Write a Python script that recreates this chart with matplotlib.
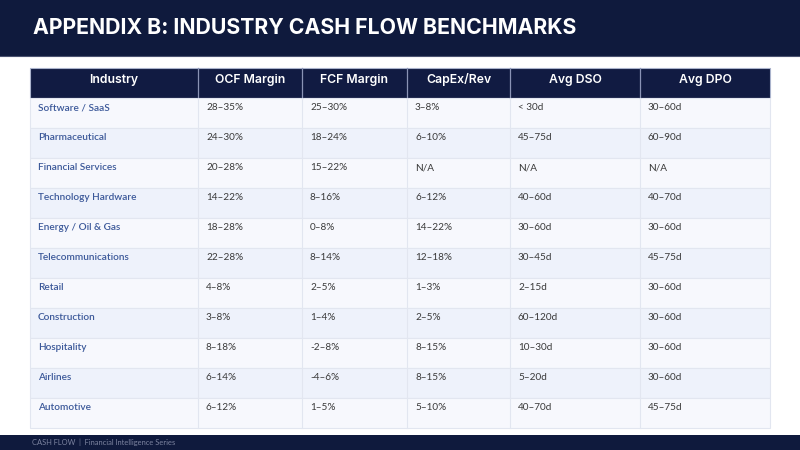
import matplotlib
matplotlib.use("Agg")
import matplotlib.pyplot as plt
from matplotlib.patches import Rectangle

# table content
title = "APPENDIX B: INDUSTRY CASH FLOW BENCHMARKS"
footer = "CASH FLOW  |  Financial Intelligence Series"
headers = ["Industry", "OCF Margin", "FCF Margin", "CapEx/Rev", "Avg DSO", "Avg DPO"]
industries = ["Software / SaaS", "Pharmaceutical", "Financial Services",
              "Technology Hardware", "Energy / Oil & Gas", "Telecommunications",
              "Retail", "Construction", "Hospitality", "Airlines", "Automotive"]
ocf_margin = ["28–35%", "24–30%", "20–28%", "14–22%", "18–28%", "22–28%",
              "4–8%", "3–8%", "8–18%", "6–14%", "6–12%"]
fcf_margin = ["25–30%", "18–24%", "15–22%", "8–16%", "0–8%", "8–14%",
              "2–5%", "1–4%", "-2–8%", "-4–6%", "1–5%"]
capex_rev = ["3–8%", "6–10%", "N/A", "6–12%", "14–22%", "12–18%",
             "1–3%", "2–5%", "8–15%", "8–15%", "5–10%"]
avg_dso = ["< 30d", "45–75d", "N/A", "40–60d", "30–60d", "30–45d",
           "2–15d", "60–120d", "10–30d", "5–20d", "40–70d"]
avg_dpo = ["30–60d", "60–90d", "N/A", "40–70d", "30–60d", "45–75d",
           "30–60d", "30–60d", "30–60d", "30–60d", "45–75d"]

NAVY = "#0f1a3d"
col_edges = [30, 198, 302, 407, 510, 640, 770]
header_top, header_h, row_h = 68, 30, 30

fig = plt.figure(figsize=(8, 4.5), dpi=100)
ax = fig.add_axes([0, 0, 1, 1])
ax.set_xlim(0, 800)
ax.set_ylim(450, 0)
ax.axis("off")

# title bar
ax.add_patch(Rectangle((0, 0), 800, 56, color=NAVY, lw=0))
ax.plot([0, 800], [56, 56], color="#4a5270", lw=0.8)
ax.text(33, 28, title, color="white", fontsize=15.3, fontweight="bold",
        family="Inter", va="center", ha="left")

# header row
ax.add_patch(Rectangle((col_edges[0], header_top), col_edges[-1] - col_edges[0],
                       header_h, facecolor="#111b42", edgecolor="#aab3cc", lw=0.8))
for i, h in enumerate(headers):
    cx = (col_edges[i] + col_edges[i + 1]) / 2
    ax.text(cx, header_top + 12, h, color="white", fontsize=8.8, fontweight="semibold",
            family="Inter", ha="center", va="center")
    if i > 0:
        ax.plot([col_edges[i]] * 2, [header_top, header_top + header_h],
                color="#8a93b5", lw=0.9)

# body rows
columns = [industries, ocf_margin, fcf_margin, capex_rev, avg_dso, avg_dpo]
body_top = header_top + header_h
for r in range(len(industries)):
    y0 = body_top + r * row_h
    face = "#f7f8fd" if r % 2 == 0 else "#eef2fb"
    ax.add_patch(Rectangle((col_edges[0], y0), col_edges[-1] - col_edges[0], row_h,
                           facecolor=face, edgecolor="#e2e6f0", lw=0.8))
    for c, col in enumerate(columns):
        ax.text(col_edges[c] + 8, y0 + 10, col[r],
                color="#3b5899" if c == 0 else "#3a3a3a",
                fontsize=7.2, family="Lato", ha="left", va="center",
                fontweight="semibold" if c == 0 else "normal")
for x in col_edges[1:-1]:
    ax.plot([x, x], [body_top, body_top + len(industries) * row_h],
            color="#e2e6f0", lw=0.8)

# footer bar
ax.add_patch(Rectangle((0, 435), 800, 15, color=NAVY, lw=0))
ax.text(32, 442, footer, color="#7d84a0", fontsize=5.4, family="Lato",
        ha="left", va="center")

fig.savefig("out.png", dpi=100)
